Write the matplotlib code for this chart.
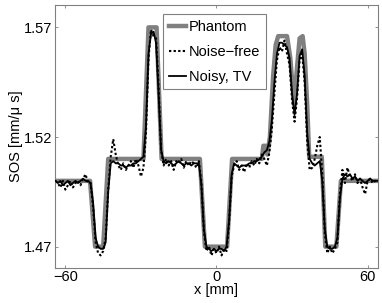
import numpy as np
import matplotlib
matplotlib.use("Agg")
import matplotlib.pyplot as plt

plt.rcParams['font.family'] = ['Liberation Sans', 'DejaVu Sans']

# Phantom profile (breakpoints, mm / SOS)
phantom_x = [-64, -50.2, -48.2, -45.0, -43.0, -29.0, -27.0, -23.8, -21.8, -6.6, -4.6,
             4.2, 6.2, 18.0, 18.6, 19.6, 20.2, 21.2, 22.5, 23.5, 24.5, 28.0, 29.3, 30.8,
             32.0, 33.0, 34.2, 35.0, 36.0, 36.8, 41.8, 43.2, 47.6, 49.4, 64]
phantom_y = [1.500, 1.500, 1.470, 1.470, 1.510, 1.510, 1.570, 1.570, 1.510, 1.510, 1.470,
             1.470, 1.510, 1.510, 1.516, 1.516, 1.512, 1.520, 1.548, 1.562, 1.566, 1.566, 1.556, 1.535,
             1.552, 1.565, 1.566, 1.558, 1.535, 1.511, 1.511, 1.470, 1.470, 1.500, 1.500]

# sample positions (mm) for the reconstructions
x = np.arange(-64, 65, 1.0)

noise_free = [1.500, 1.499, 1.497, 1.500, 1.496, 1.498, 1.500, 1.497, 1.499, 1.500,
              1.498, 1.501, 1.503, 1.499, 1.499, 1.488, 1.472, 1.467, 1.466, 1.468,
              1.474, 1.496, 1.511, 1.519, 1.512, 1.507, 1.505, 1.508, 1.505, 1.507,
              1.509, 1.506, 1.510, 1.507, 1.502, 1.506, 1.522, 1.556, 1.569, 1.566,
              1.565, 1.543, 1.514, 1.507, 1.510, 1.507, 1.509, 1.505, 1.509, 1.508,
              1.510, 1.506, 1.509, 1.507, 1.509, 1.508, 1.506, 1.509, 1.499, 1.477,
              1.468, 1.470, 1.466, 1.469, 1.467, 1.470, 1.466, 1.469, 1.468, 1.481,
              1.502, 1.507, 1.509, 1.505, 1.507, 1.504, 1.508, 1.506, 1.509, 1.507,
              1.510, 1.508, 1.512, 1.510, 1.507, 1.513, 1.524, 1.540, 1.555, 1.561,
              1.559, 1.564, 1.558, 1.553, 1.537, 1.527, 1.538, 1.555, 1.558, 1.545,
              1.518, 1.505, 1.506, 1.510, 1.516, 1.520, 1.503, 1.476, 1.467, 1.470,
              1.467, 1.469, 1.472, 1.494, 1.505, 1.499, 1.506, 1.502, 1.500, 1.503,
              1.499, 1.501, 1.497, 1.494, 1.500, 1.501, 1.499, 1.500, 1.500]

noisy_tv = [1.500, 1.499, 1.500, 1.498, 1.499, 1.500, 1.498, 1.499, 1.500, 1.499,
            1.500, 1.501, 1.500, 1.500, 1.499, 1.490, 1.474, 1.470, 1.469, 1.469,
            1.472, 1.495, 1.508, 1.509, 1.508, 1.508, 1.507, 1.507, 1.506, 1.507,
            1.507, 1.508, 1.508, 1.509, 1.510, 1.511, 1.525, 1.558, 1.567, 1.568,
            1.563, 1.540, 1.514, 1.509, 1.508, 1.509, 1.508, 1.507, 1.508, 1.509,
            1.508, 1.507, 1.508, 1.508, 1.507, 1.508, 1.508, 1.508, 1.498, 1.478,
            1.470, 1.469, 1.468, 1.469, 1.468, 1.469, 1.469, 1.468, 1.470, 1.482,
            1.503, 1.508, 1.507, 1.506, 1.507, 1.507, 1.507, 1.508, 1.508, 1.509,
            1.509, 1.510, 1.511, 1.513, 1.514, 1.518, 1.528, 1.545, 1.558, 1.563,
            1.563, 1.562, 1.561, 1.556, 1.540, 1.530, 1.540, 1.557, 1.560, 1.548,
            1.522, 1.510, 1.508, 1.507, 1.508, 1.509, 1.500, 1.478, 1.470, 1.469,
            1.469, 1.470, 1.474, 1.492, 1.501, 1.503, 1.502, 1.503, 1.501, 1.502,
            1.500, 1.501, 1.500, 1.499, 1.500, 1.501, 1.500, 1.500, 1.500]

xticks = [-60, 0, 60]
xtick_labels = ['\u221260', '0', '60']
yticks = [1.47, 1.52, 1.57]
ytick_labels = ['1.47', '1.52', '1.57']

fig = plt.figure(figsize=(3.82, 3.03), dpi=100)
ax = fig.add_axes([0.1448, 0.1165, 0.8439, 0.867])

ax.plot(phantom_x, phantom_y, color='#808080', lw=3.2, label='Phantom', zorder=1,
        solid_joinstyle='round')
ax.plot(x, noise_free, color='black', lw=1.5, ls=(0, (1.1, 1.1)), label='Noise\u2212free', zorder=2)
ax.plot(x, noisy_tv, color='black', lw=1.3, label='Noisy, TV', zorder=3)

ax.set_xlim(-64, 64)
ax.set_ylim(1.4604, 1.5802)
ax.set_xticks(xticks)
ax.set_xticklabels(xtick_labels)
ax.set_yticks(yticks)
ax.set_yticklabels(ytick_labels)
ax.tick_params(direction='in', length=2.5, width=0.6, color='#808080', labelsize=10.5,
               top=True, right=True, pad=2)
for s in ax.spines.values():
    s.set_color('#808080')
    s.set_linewidth(0.8)

ax.set_xlabel('x [mm]', fontsize=10.5, labelpad=-1)
ax.set_ylabel('SOS [mm/\u03bc s]', fontsize=10.5, labelpad=1)

leg = ax.legend(loc='upper left', bbox_to_anchor=(0.334, 0.966), borderaxespad=0,
                fancybox=False, fontsize=10.5, handlelength=1.2, handletextpad=0.2,
                labelspacing=0.75, borderpad=0.4, framealpha=1)
leg.get_frame().set_edgecolor('#808080')
leg.get_frame().set_linewidth(0.8)

fig.savefig('out.png', dpi=100)
